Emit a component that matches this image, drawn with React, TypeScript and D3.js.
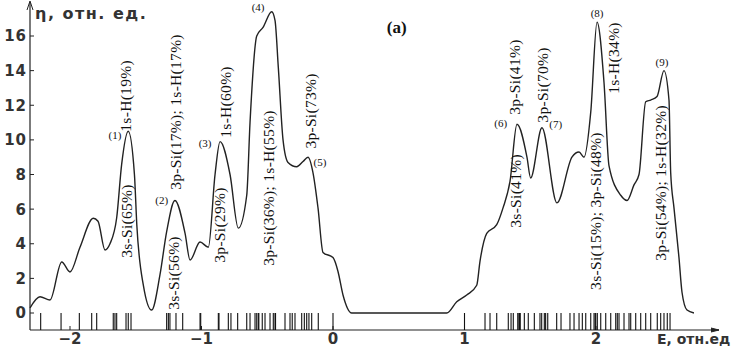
import React from "react";
import * as d3 from "d3";

// Energy (rel. units) of DOS curve samples
const curveE = [
  -2.304, -2.228, -2.152, -2.063, -2.0, -1.924, -1.823, -1.787, -1.734, -1.696, -1.645, -1.607, -1.557, -1.51,
  -1.492, -1.442, -1.379, -1.316, -1.265, -1.202, -1.125, -1.087, -1.011, -0.948, -0.897, -0.859, -0.783, -0.72,
  -0.656, -0.631, -0.58, -0.532, -0.466, -0.441, -0.416, -0.38, -0.342, -0.276, -0.228, -0.19, -0.152, -0.114,
  -0.076, 0.0, 0.038, 0.076, 0.142, 0.865, 0.941, 1.017, 1.093, 1.118, 1.169, 1.245, 1.293, 1.346, 1.399, 1.475,
  1.503, 1.589, 1.703, 1.817, 1.871, 1.909, 1.96, 2.008, 2.061, 2.099, 2.188, 2.236, 2.289, 2.327, 2.378, 2.416,
  2.464, 2.517, 2.555, 2.568, 2.593, 2.631, 2.654, 2.692, 2.745,
];
// DOS values η (rel. units)
const curveV = [
  0.3, 0.94, 0.75, 2.95, 2.37, 3.8, 5.47, 5.3, 3.64, 4.0, 5.5, 8.6, 10.5, 8.0,
  5.1, 1.6, 0.17, 2.2, 4.7, 6.5, 4.6, 3.06, 4.1, 3.8, 8.0, 9.9, 8.0, 4.9,
  6.8, 11.0, 16.0, 16.5, 17.4, 16.9, 14.2, 10.0, 8.7, 8.45, 8.75, 9.0, 8.1, 6.07,
  3.5, 3.2, 2.4, 1.04, 0.0, 0.0, 0.65, 1.04, 1.6, 3.0, 4.6, 5.1, 6.07, 7.6, 10.9, 9.0,
  7.8, 10.7, 6.36, 9.0, 9.3, 9.0, 11.6, 16.8, 13.3, 8.5, 6.8, 6.5, 7.4, 8.0, 12.2, 12.3,
  12.5, 14.0, 12.3, 8.1, 6.07, 3.2, 1.2, 0.17, 0.0,
];

// Energy levels (rug lines)
const levels = [
  -2.223, -2.068, -1.929, -1.835, -1.797, -1.671, -1.658, -1.645, -1.574, -1.557, -1.536, -1.265, -1.252, -1.24,
  -1.194, -1.143, -1.011, -1.006, -0.872, -0.867, -0.796, -0.776, -0.725, -0.656, -0.631, -0.593, -0.58, -0.568,
  -0.564, -0.538, -0.517, -0.479, -0.454, -0.441, -0.437, -0.365, -0.327, -0.31, -0.289, -0.238, -0.218, -0.2,
  -0.183, -0.162, -0.112, 0.0, 1.0, 1.156, 1.194, 1.245, 1.333, 1.354, 1.371, 1.405, 1.414, 1.418, 1.424, 1.455,
  1.485, 1.531, 1.574, 1.587, 1.607, 1.617, 1.633, 1.701, 1.734, 1.802, 1.833, 1.871, 1.896, 1.922, 1.96, 1.985,
  1.994, 1.998, 2.01, 2.036, 2.074, 2.112, 2.15, 2.162, 2.175, 2.213, 2.251, 2.264, 2.302, 2.34, 2.378, 2.416,
  2.466, 2.492, 2.517, 2.542, 2.563,
];

const yTicks = [0, 2, 4, 6, 8, 10, 12, 14, 16];
const xTicks = [-2, -1, 0, 1, 2];

// Orbital contribution annotations (vertical text)
const annText = [
  "1s-H(19%)", "3s-Si(65%)", "3p-Si(17%); 1s-H(17%)", "3s-Si(56%)", "1s-H(60%)", "3p-Si(29%)",
  "3p-Si(36%); 1s-H(55%)", "3p-Si(73%)", "3p-Si(41%)", "3s-Si(41%)", "3p-Si(70%)", "1s-H(34%)",
  "3s-Si(15%); 3p-Si(48%)", "3p-Si(54%); 1s-H(32%)",
];
const annE = [-1.574, -1.567, -1.194, -1.209, -0.814, -0.859, -0.487, -0.167, 1.384, 1.392, 1.597, 2.137, 2.0, 2.494];
const annV = [12.54, 5.31, 11.61, 2.31, 12.19, 5.08, 7.22, 11.67, 13.63, 7.05, 13.17, 14.73, 5.89, 7.51];

// Peak numbers
const peakText = ["(1)", "(2)", "(3)", "(4)", "(5)", "(6)", "(7)", "(8)", "(9)"];
const peakE = [-1.658, -1.303, -0.973, -0.57, -0.099, 1.275, 1.694, 2.008, 2.502];
const peakV = [10.28, 6.53, 9.82, 17.68, 8.72, 10.98, 10.92, 17.33, 14.5];

export default function App() {
  const W = 754;
  const H = 350;
  const x = d3.scaleLinear().domain([-2, 2]).range([70, 596]);
  const y = d3.scaleLinear().domain([0, 16]).range([313, 36]);
  const axisY = 330;
  const axisX0 = 30;
  const axisXEnd = 719;

  const pts: [number, number][] = curveE.map((e, i) => [e, curveV[i]]);
  const line = d3
    .line<[number, number]>()
    .x((d) => x(d[0]))
    .y((d) => y(d[1]))
    .curve(d3.curveMonotoneX);

  const serif = "'Liberation Serif', 'Times New Roman', serif";
  const sans = "'DejaVu Sans', sans-serif";

  return (
    <svg
      width={W}
      height={H}
      style={{ position: "absolute", left: 0, top: 0, background: "#fff" }}
    >
      <rect x={0} y={0} width={W} height={H} fill="#fff" />
      {/* axes */}
      <line x1={axisX0} y1={axisY} x2={axisX0} y2={3} stroke="#222" strokeWidth={1.2} />
      <path d={`M${axisX0 - 3},10 L${axisX0},1 L${axisX0 + 3},10`} fill="none" stroke="#222" strokeWidth={1} />
      <line x1={axisX0} y1={axisY} x2={axisXEnd} y2={axisY} stroke="#222" strokeWidth={1.2} />
      <path d={`M${axisXEnd - 8},${axisY - 2} L${axisXEnd},${axisY} L${axisXEnd - 8},${axisY + 2}`} fill="#222" stroke="#222" strokeWidth={1} />

      {/* y ticks */}
      {yTicks.map((t) => (
        <g key={"yt" + t}>
          <line x1={axisX0} x2={axisX0 + 4} y1={y(t)} y2={y(t)} stroke="#222" strokeWidth={1} />
          <text
            x={27}
            y={y(t)}
            dy="0.36em"
            textAnchor="end"
            fontFamily={sans}
            fontSize={15}
            fontWeight="bold"
            letterSpacing={1}
            fill="#333"
          >
            {t}
          </text>
        </g>
      ))}

      {/* x ticks */}
      {xTicks.map((t) => (
        <g key={"xt" + t}>
          <line x1={x(t)} x2={x(t)} y1={axisY} y2={axisY - 4} stroke="#222" strokeWidth={1} />
          <text
            x={x(t)}
            y={339}
            dy="0.36em"
            textAnchor="middle"
            fontFamily={sans}
            fontSize={15}
            fontWeight="bold"
            fill="#333"
          >
            {t < 0 ? "\u2212" + Math.abs(t) : String(t)}
          </text>
        </g>
      ))}

      {/* rug lines */}
      {levels.map((e, i) => (
        <line key={"lv" + i} x1={x(e)} x2={x(e)} y1={313} y2={axisY} stroke="#111" strokeWidth={1.1} />
      ))}

      {/* curve */}
      <path d={line(pts) || ""} fill="none" stroke="#222" strokeWidth={1.4} />

      {/* axis titles */}
      <text x={35} y={19} fontFamily={sans} fontSize={16} fontWeight="bold" letterSpacing={1.5} fill="#333">
        η, отн. ед.
      </text>
      <text x={657} y={344} fontFamily={sans} fontSize={14} fontWeight="bold" letterSpacing={0} fill="#333">
        E, отн.ед
      </text>
      <text x={396.7} y={27} dy="0.35em" textAnchor="middle" fontFamily={serif} fontWeight="bold" fontSize={17} fill="#111">
        (a)
      </text>

      {/* vertical annotations */}
      {annText.map((s, i) => (
        <text
          key={"an" + i}
          transform={`translate(${x(annE[i])},${y(annV[i])}) rotate(-90)`}
          dy="0.35em"
          textAnchor="middle"
          fontFamily={serif}
          fontSize={15.5}
          letterSpacing={0.3}
          fill="#111"
        >
          {s}
        </text>
      ))}

      {/* peak numbers */}
      {peakText.map((s, i) => (
        <text
          key={"pk" + i}
          x={x(peakE[i])}
          y={y(peakV[i])}
          dy="0.35em"
          textAnchor="middle"
          fontFamily={serif}
          fontSize={11}
          fill="#111"
        >
          {s}
        </text>
      ))}
    </svg>
  );
}
